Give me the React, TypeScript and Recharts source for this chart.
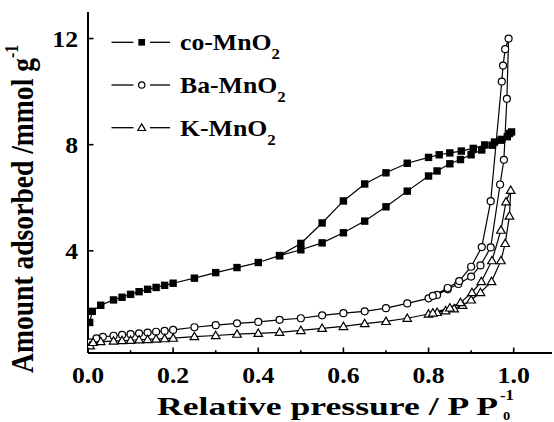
import React from "react";
import { LineChart, Line, XAxis, YAxis, Legend } from "recharts";

// co-MnO2: adsorption (P rising) then desorption (P falling)
const coAdsP = [0.004, 0.01, 0.03, 0.06, 0.08, 0.1, 0.12, 0.14, 0.16, 0.18, 0.2, 0.25, 0.3, 0.35, 0.4, 0.45, 0.5, 0.55, 0.6, 0.65, 0.7, 0.75, 0.8, 0.82, 0.85, 0.875, 0.9, 0.925, 0.95, 0.97, 0.99];
const coAdsV = [1.3, 1.72, 1.95, 2.15, 2.25, 2.36, 2.46, 2.55, 2.62, 2.7, 2.78, 2.97, 3.18, 3.37, 3.56, 3.82, 4.04, 4.3, 4.68, 5.12, 5.66, 6.25, 6.82, 7.01, 7.28, 7.44, 7.62, 7.8, 7.98, 8.17, 8.42];
const coDesP = [0.995, 0.985, 0.972, 0.955, 0.932, 0.905, 0.877, 0.85, 0.825, 0.8, 0.75, 0.7, 0.65, 0.6, 0.55, 0.5, 0.45];
const coDesV = [8.48, 8.3, 8.2, 8.1, 7.99, 7.86, 7.76, 7.69, 7.62, 7.52, 7.3, 6.94, 6.52, 5.88, 5.05, 4.28, 3.82];

// Ba-MnO2
const baAdsP = [0.005, 0.02, 0.035, 0.06, 0.08, 0.1, 0.12, 0.14, 0.16, 0.18, 0.2, 0.25, 0.3, 0.35, 0.4, 0.45, 0.5, 0.55, 0.6, 0.65, 0.7, 0.75, 0.8, 0.82, 0.845, 0.87, 0.9, 0.922, 0.946, 0.968, 0.977, 0.984, 0.988];
const baAdsV = [0.55, 0.7, 0.76, 0.8, 0.83, 0.86, 0.89, 0.92, 0.95, 0.98, 1.02, 1.12, 1.2, 1.27, 1.32, 1.4, 1.46, 1.57, 1.65, 1.72, 1.84, 2.02, 2.21, 2.34, 2.55, 2.75, 3.03, 3.45, 4.13, 6.5, 7.43, 9.73, 12.0];
const baDesP = [0.98, 0.975, 0.972, 0.946, 0.925, 0.9, 0.872, 0.845, 0.81];
const baDesV = [11.6, 10.98, 10.38, 5.87, 4.14, 3.4, 2.86, 2.6, 2.3];

// K-MnO2
const kAdsP = [0.005, 0.012, 0.03, 0.06, 0.08, 0.1, 0.12, 0.14, 0.16, 0.18, 0.2, 0.25, 0.3, 0.35, 0.4, 0.45, 0.5, 0.55, 0.6, 0.65, 0.7, 0.75, 0.8, 0.82, 0.84, 0.86, 0.88, 0.9, 0.922, 0.948, 0.97, 0.98, 0.99, 0.993];
const kAdsV = [0.42, 0.55, 0.58, 0.6, 0.62, 0.63, 0.65, 0.66, 0.68, 0.69, 0.71, 0.77, 0.81, 0.86, 0.89, 0.93, 1.0, 1.08, 1.15, 1.26, 1.34, 1.46, 1.62, 1.68, 1.74, 1.82, 1.95, 2.15, 2.43, 2.84, 3.63, 4.28, 5.31, 6.28];
const kDesP = [0.982, 0.97, 0.949, 0.924, 0.902, 0.875, 0.85, 0.81];
const kDesV = [5.85, 4.78, 3.63, 2.84, 2.43, 2.05, 1.85, 1.66];

const xTicks = [0, 0.1, 0.2, 0.3, 0.4, 0.5, 0.6, 0.7, 0.8, 0.9, 1.0];
const yTicks = [4, 8, 12];

const FONT = '"Liberation Serif", "Times New Roman", serif';
const SX = 1.12; // the source text is a little stretched sideways

const toPoints = (p: number[], v: number[]) => p.map((x, i) => ({ x, y: v[i] }));
const coData = toPoints([...coAdsP, ...coDesP], [...coAdsV, ...coDesV]);
const baData = toPoints([...baAdsP, ...baDesP], [...baAdsV, ...baDesV]);
const kData = toPoints([...kAdsP, ...kDesP], [...kAdsV, ...kDesV]);

function Marker({ cx, cy, shape, s = 1 }: any) {
  if (cx == null || cy == null) return null;
  if (shape === "square") {
    const h = 3.7 * s;
    return <rect x={cx - h} y={cy - h} width={2 * h} height={2 * h} fill="#000" />;
  }
  if (shape === "circle") {
    return <circle cx={cx} cy={cy} r={3.5 * s} fill="#fff" stroke="#000" strokeWidth={1.2} />;
  }
  const r = 4.3 * s;
  return <path d={`M${cx},${cy - r}L${cx + r},${cy + r * 0.72}L${cx - r},${cy + r * 0.72}Z`} fill="#fff" stroke="#000" strokeWidth={1.2} />;
}

function SText({ x, y, size, anchor = "start", children }: any) {
  return (
    <text transform={`translate(${x},${y}) scale(${SX},1)`} fontFamily={FONT} fontWeight="bold" fontSize={size} textAnchor={anchor} fill="#000">
      {children}
    </text>
  );
}

const XTick = ({ x, y, payload }: any) => {
  const v = payload.value;
  const major = Math.round(v * 10) % 2 === 0;
  return (
    <g>
      <line x1={x} y1={y} x2={x} y2={y - (major ? 5.5 : 2.8)} stroke="#000" strokeWidth={1.6} />
      {major && <SText x={x} y={y + 30} size={23} anchor="middle">{v.toFixed(1)}</SText>}
    </g>
  );
};

const YTick = ({ x, y, payload }: any) => (
  <g>
    <line x1={x} y1={y} x2={x + 5.5} y2={y} stroke="#000" strokeWidth={1.6} />
    <SText x={x - 10} y={y + 8.5} size={23} anchor="end">{payload.value}</SText>
  </g>
);

const XTitle = () => (
  <g>
    <text x={157} y={415} fontFamily={FONT} fontWeight="bold" fontSize={26} textLength={341} lengthAdjust="spacingAndGlyphs">
      Relative pressure / P P
    </text>
    <SText x={500} y={400} size={15}>-1</SText>
    <SText x={503} y={419.5} size={13}>0</SText>
  </g>
);

const YTitle = () => (
  <g>
    <text transform={`translate(33,373) rotate(-90) scale(1,${SX})`} fontFamily={FONT} fontWeight="bold" fontSize={28} textLength={315} lengthAdjust="spacingAndGlyphs">
      Amount adsorbed /mmol g
    </text>
    <text transform={`translate(18,58) rotate(-90) scale(1,${SX})`} fontFamily={FONT} fontWeight="bold" fontSize={16}>
      -1
    </text>
  </g>
);

const legendRows = [
  { name: "co-MnO", shape: "square" },
  { name: "Ba-MnO", shape: "circle" },
  { name: "K-MnO", shape: "triangle" },
];

const LegendBox = () => (
  <svg width={300} height={160}>
    {legendRows.map((r, i) => {
      const y = 42.3 + i * 42.7;
      return (
        <g key={r.name}>
          <line x1={111.5} y1={y} x2={133.5} y2={y} stroke="#000" strokeWidth={1.3} />
          <line x1={150} y1={y} x2={170} y2={y} stroke="#000" strokeWidth={1.3} />
          <Marker cx={141.7} cy={y} shape={r.shape} s={0.9} />
          <SText x={180} y={y + 8} size={23}>
            {r.name}
            <tspan fontSize={15} dy={9}>2</tspan>
          </SText>
        </g>
      );
    })}
  </svg>
);

export default function App() {
  return (
    <div style={{ position: "fixed", left: 0, top: 0, background: "#fff" }}>
      <LineChart width={554} height={422} margin={{ top: 12, right: 2, bottom: 0, left: 0 }}>
        <XAxis
          dataKey="x"
          type="number"
          domain={[0, 1.09]}
          ticks={xTicks}
          allowDataOverflow
          height={69}
          tickSize={0}
          tickMargin={0}
          tickLine={false}
          tick={<XTick />}
          interval={0}
          axisLine={{ stroke: "#000", strokeWidth: 2 }}
          label={<XTitle />}
        />
        <YAxis
          type="number"
          domain={[0.15, 13]}
          ticks={yTicks}
          allowDataOverflow
          width={88}
          tickSize={0}
          tickMargin={0}
          tickLine={false}
          tick={<YTick />}
          interval={0}
          axisLine={{ stroke: "#000", strokeWidth: 2 }}
          label={<YTitle />}
        />
        <XAxis xAxisId="top" orientation="top" type="number" domain={[0, 1.09]} height={0} tick={false} tickLine={false} axisLine={{ stroke: "#000", strokeWidth: 2 }} />
        <YAxis yAxisId="right" orientation="right" type="number" domain={[0.15, 13]} width={0} tick={false} tickLine={false} axisLine={{ stroke: "#000", strokeWidth: 1.8 }} />
        <Legend layout="vertical" align="center" verticalAlign="middle" content={<LegendBox />} wrapperStyle={{ left: 0, top: 0, width: 300, height: 160 }} />
        <Line data={coData} dataKey="y" name="co-MnO2" stroke="#000" strokeWidth={1.2} isAnimationActive={false} dot={(p: any) => <Marker key={`co-${p.index}`} cx={p.cx} cy={p.cy} shape="square" />} />
        <Line data={baData} dataKey="y" name="Ba-MnO2" stroke="#000" strokeWidth={1.2} isAnimationActive={false} dot={(p: any) => <Marker key={`ba-${p.index}`} cx={p.cx} cy={p.cy} shape="circle" />} />
        <Line data={kData} dataKey="y" name="K-MnO2" stroke="#000" strokeWidth={1.2} isAnimationActive={false} dot={(p: any) => <Marker key={`k-${p.index}`} cx={p.cx} cy={p.cy} shape="triangle" />} />
      </LineChart>
    </div>
  );
}
